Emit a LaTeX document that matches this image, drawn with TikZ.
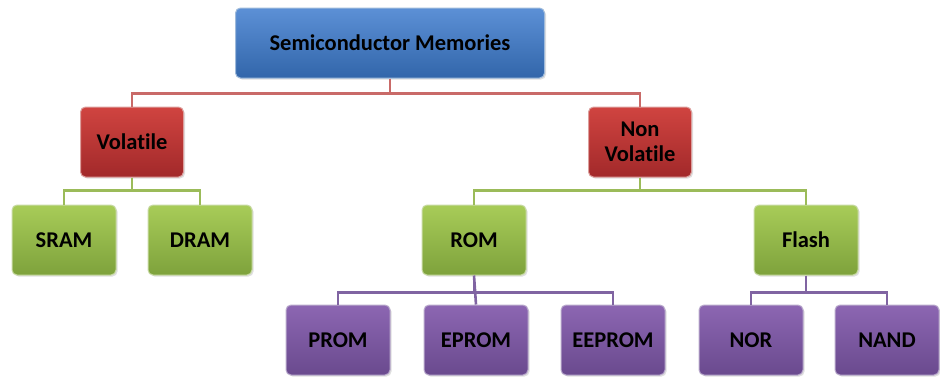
\documentclass[tikz,border=0pt]{standalone}
\usepackage{fontspec}
\setmainfont[Ligatures={NoCommon}]{Carlito}
\usetikzlibrary{shadows}
\definecolor{bl}{HTML}{4F81BD}
\definecolor{rd}{HTML}{C0504D}
\definecolor{gr}{HTML}{9BBB59}
\definecolor{pu}{HTML}{8064A2}
\definecolor{blT}{HTML}{5C90D6}
\definecolor{blB}{HTML}{3266AA}
\definecolor{rdT}{HTML}{D04440}
\definecolor{rdB}{HTML}{A2292A}
\definecolor{grT}{HTML}{A8CC58}
\definecolor{grB}{HTML}{7EA23C}
\definecolor{puT}{HTML}{8C66B2}
\definecolor{puB}{HTML}{6A4A8E}
\tikzset{
  box/.style={rounded corners=5pt, minimum height=70pt, inner sep=0pt, align=center,
    font=\bfseries\fontsize{22.5}{25}\selectfont, text=black, line width=1pt,
    drop shadow={opacity=0.25, shadow xshift=1.5pt, shadow yshift=-1.5pt}},
  bluebox/.style={box, minimum width=309pt, draw=bl!55!white, top color=blT, bottom color=blB},
  redbox/.style={box, minimum width=103pt, draw=rd!55!white, top color=rdT, bottom color=rdB},
  greenbox/.style={box, minimum width=104pt, draw=gr!55!white, top color=grT, bottom color=grB},
  purplebox/.style={box, minimum width=104pt, draw=pu!55!white, top color=puT, bottom color=puB},
  link/.style={line width=2.6pt},
}
\begin{document}
\begin{tikzpicture}[x=1pt,y=-1pt]
\useasboundingbox (0,0) rectangle (940,378);
\node[bluebox] (sm) at (390,43) {Semiconductor Memories};
\node[redbox] (vol) at (132,142) {Volatile};
\node[redbox] (nv) at (640,142) {Non\\Volatile};
\node[greenbox] (sram) at (64,240) {SRAM};
\node[greenbox] (dram) at (200,240) {DRAM};
\node[greenbox] (rom) at (474,240) {ROM};
\node[greenbox] (flash) at (806,240) {Flash};
\node[purplebox] (prom) at (338,340) {PROM};
\node[purplebox] (eprom) at (476,340) {EPROM};
\node[purplebox] (eeprom) at (613,340) {EEPROM};
\node[purplebox] (nor) at (751,340) {NOR};
\node[purplebox] (nand) at (887,340) {NAND};
\draw[link, rd!85!white] (sm.south) |- ++(0,15) -| (vol.north);
\draw[link, rd!85!white] (sm.south) |- ++(0,15) -| (nv.north);
\draw[link, gr] (vol.south) |- ++(0,13) -| (sram.north);
\draw[link, gr] (vol.south) |- ++(0,13) -| (dram.north);
\draw[link, gr] (nv.south) |- ++(0,13) -| (rom.north);
\draw[link, gr] (nv.south) |- ++(0,13) -| (flash.north);
\draw[link, pu] (rom.south) |- ++(0,17) -| (prom.north);
\draw[link, pu] (rom.south) -- (eprom.north);
\draw[link, pu] (rom.south) |- ++(0,17) -| (eeprom.north);
\draw[link, pu] (flash.south) |- ++(0,17) -| (nor.north);
\draw[link, pu] (flash.south) |- ++(0,17) -| (nand.north);
\end{tikzpicture}
\end{document}
